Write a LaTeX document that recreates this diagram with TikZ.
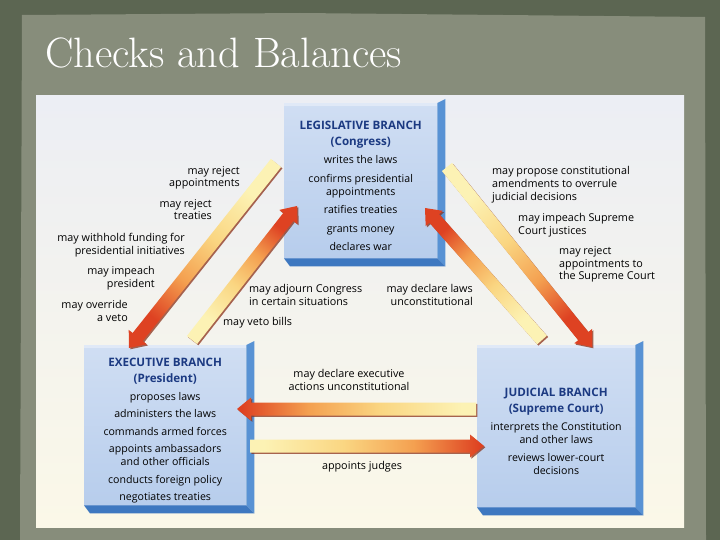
\documentclass[tikz,border=0pt]{standalone}
\usepackage{fontspec}
\setsansfont{Open Sans}
\usetikzlibrary{calc}
\definecolor{framedark}{RGB}{92,102,82}
\definecolor{paper}{RGB}{135,141,123}
\definecolor{paneltop}{RGB}{236,238,244}
\definecolor{panelbot}{RGB}{251,248,232}
\definecolor{faceblue}{RGB}{183,205,236}
\definecolor{facetop}{RGB}{208,222,243}
\definecolor{bevelblue}{RGB}{88,146,212}
\definecolor{bevelbot}{RGB}{62,120,192}
\definecolor{titleblue}{RGB}{28,58,130}
\definecolor{arrtail}{RGB}{252,242,180}
\definecolor{arrlight}{RGB}{250,214,130}
\definecolor{arrmid}{RGB}{244,160,80}
\definecolor{arrhead}{RGB}{222,66,34}
\definecolor{arredge}{RGB}{140,50,25}
\pgfdeclarehorizontalshading{arrowshade}{100bp}{color(0bp)=(arrtail); color(28bp)=(arrtail); color(45bp)=(arrlight); color(60bp)=(arrmid); color(74bp)=(arrhead); color(100bp)=(arrhead)}
\newcommand\brtitle[1]{{\bfseries\fontsize{11.6}{13}\selectfont\color{titleblue}#1}}
\newcommand\toppad{\rule{0pt}{19pt}}
\newcommand\bevelof[1]{%
  \fill[bevelblue] (#1.north east) -- ++(8,-4) -- ($(#1.south east)+(8,8)$) -- (#1.south east) -- cycle;
  \fill[bevelbot] (#1.south west) -- (#1.south east) -- ($(#1.south east)+(8,8)$) -- ($(#1.south west)+(6,8)$) -- cycle;
  \fill[white, opacity=.35] (#1.north west) rectangle ($(#1.north east)+(0,3)$);}
\newcommand\fatarrow[3]{% tail, head, shading angle
  \coordinate (hb) at ($(#2)!14pt!(#1)$);
  \fill[arredge, opacity=.75, transform canvas={shift={(1.3pt,-1.3pt)}}]
    ($(#1)!6.5pt!90:(#2)$) -- ($(hb)!6.5pt!90:(#2)$) -- ($(hb)!11.5pt!90:(#2)$) -- (#2)
    -- ($(hb)!11.5pt!-90:(#2)$) -- ($(hb)!6.5pt!-90:(#2)$) -- ($(#1)!6.5pt!-90:(#2)$) -- cycle;
  \path[shading=arrowshade, shading angle=#3]
    ($(#1)!6.5pt!90:(#2)$) -- ($(hb)!6.5pt!90:(#2)$) -- ($(hb)!11.5pt!90:(#2)$) -- (#2)
    -- ($(hb)!11.5pt!-90:(#2)$) -- ($(hb)!6.5pt!-90:(#2)$) -- ($(#1)!6.5pt!-90:(#2)$) -- cycle;}
\begin{document}
\begin{tikzpicture}[x=1pt,y=-1pt,
  face/.style={top color=facetop, bottom color=faceblue, inner sep=0pt, align=center,
    font=\sffamily\fontsize{10.6}{13}\selectfont, anchor=north west},
  lbl/.style={font=\sffamily\fontsize{10.8}{12.6}\selectfont, inner sep=0pt, text=black}]
\useasboundingbox (0,0) rectangle (720,540);
\fill[framedark] (0,0) rectangle (720,540);
\fill[paper] (22,15) -- (300,13) -- (705,17) -- (706,540) -- (20,540) -- cycle;
\node[anchor=base west, inner sep=0pt, text=white, font=\fontsize{42.5}{48}\selectfont] (title) at (45,68) {Checks and Balances};
\shade[top color=paneltop, bottom color=panelbot] (36,96) rectangle (684,527);

% branch boxes
\node[face, minimum width=153, minimum height=155] (leg) at (284,103) {%
  \brtitle{\toppad LEGISLATIVE BRANCH}\\[3pt] \brtitle{(Congress)}\\[5pt]
  writes the laws\\[5.5pt]
  confirms presidential\\ appointments\\[5.5pt]
  ratifies treaties\\[5.5pt]
  grants money\\[5.5pt]
  declares war};
\bevelof{leg}
\node[face, minimum width=162, minimum height=160] (exe) at (84,345) {%
  \brtitle{\toppad EXECUTIVE BRANCH}\\[3pt] \brtitle{(President)}\\[5pt]
  proposes laws\\[4.5pt]
  administers the laws\\[4.5pt]
  commands armed forces\\[4.5pt]
  appoints ambassadors\\ and other officials\\[4.5pt]
  conducts foreign policy\\[4.5pt]
  negotiates treaties};
\bevelof{exe}
\node[face, minimum width=158, minimum height=162] (jud) at (477,345) {%
  \brtitle{\toppad JUDICIAL BRANCH}\\[3pt] \brtitle{(Supreme Court)}\\[5pt]
  interprets the Constitution\\ and other laws\\[5pt]
  reviews lower-court\\ decisions};
\bevelof{jud}

% arrow end points
\coordinate (a1t) at (276,163);  \coordinate (a1h) at (129,348);
\coordinate (a2t) at (192,340);  \coordinate (a2h) at (297,206);
\coordinate (a3t) at (447,167);  \coordinate (a3h) at (592,347);
\coordinate (a4t) at (542,340);  \coordinate (a4h) at (425,208);
\coordinate (a5t) at (476,409);  \coordinate (a5h) at (237,409);
\coordinate (a6t) at (250,446);  \coordinate (a6h) at (484,446);
\fatarrow{a1t}{a1h}{-128.5}
\fatarrow{a2t}{a2h}{51.9}
\fatarrow{a3t}{a3h}{-51.1}
\fatarrow{a4t}{a4h}{131.6}
\fatarrow{a5t}{a5h}{180}
\fatarrow{a6t}{a6h}{0}

% labels
\node[lbl, anchor=north east, align=right] (l1) at (240,166) {may reject\\appointments};
\node[lbl, anchor=north east, align=right] (l2) at (212,199) {may reject\\treaties};
\node[lbl, anchor=north east, align=right] (l3) at (185,233.5) {may withhold funding for\\presidential initiatives};
\node[lbl, anchor=north east, align=right] (l4) at (155,266.5) {may impeach\\president};
\node[lbl, anchor=north east, align=right] (l5) at (128,300.5) {may override\\a veto};
\node[lbl, anchor=north west, align=left] (r1) at (492,166.5) {may propose constitutional\\amendments to overrule\\judicial decisions};
\node[lbl, anchor=north west, align=left] (r2) at (518,213.5) {may impeach Supreme\\Court justices};
\node[lbl, anchor=north west, align=left] (r3) at (559,246.5) {may reject\\appointments to\\the Supreme Court};
\node[lbl, anchor=north west, align=left] (m1) at (249,284.5) {may adjourn Congress\\in certain situations};
\node[lbl, anchor=north east, align=right] (m2) at (473,284.5) {may declare laws\\unconstitutional};
\node[lbl, anchor=north west] (m3) at (223,317.5) {may veto bills};
\node[lbl, anchor=north, align=center] (b1) at (349,369.5) {may declare executive\\actions unconstitutional};
\node[lbl, anchor=north] (b2) at (362,461.5) {appoints judges};
\end{tikzpicture}
\end{document}
